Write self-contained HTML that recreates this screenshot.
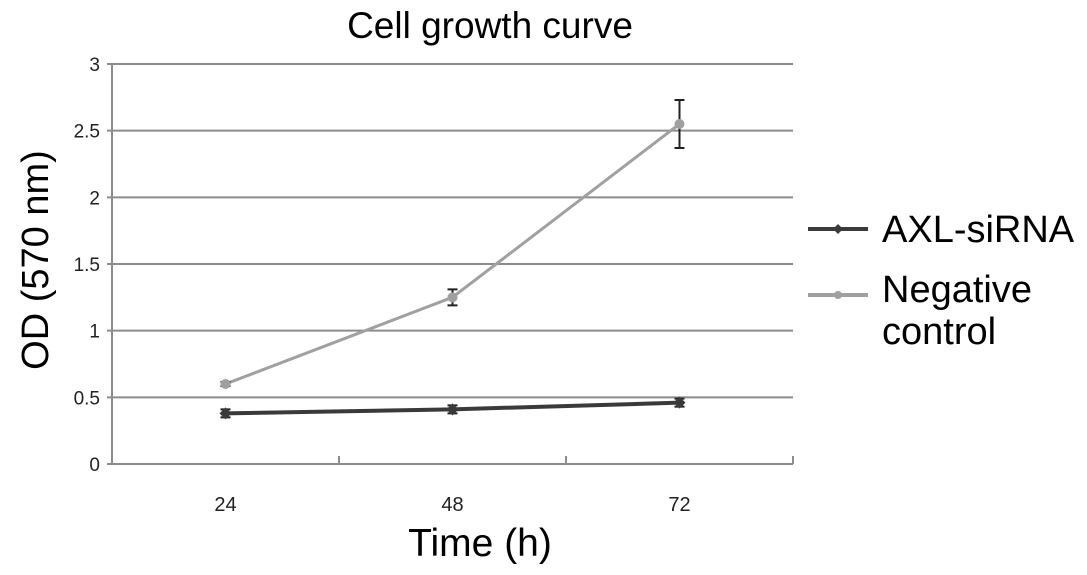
<!DOCTYPE html>
<html><head><meta charset="utf-8"><style>
body{margin:0;background:#fff;}
svg{display:block;font-family:"Liberation Sans",sans-serif;}
</style></head><body>
<svg id="chart" width="1087" height="575">
<text x="490" y="38" font-size="37" text-anchor="middle">Cell growth curve</text>
<g id="grid"></g><g id="axes"></g><g id="series"></g>
<text x="480" y="556" font-size="39" text-anchor="middle">Time (h)</text>
<text transform="translate(48,260) rotate(-90)" font-size="38" text-anchor="middle">OD (570 nm)</text>
<g>
<line x1="808" y1="229" x2="868" y2="229" stroke="#3a3a3a" stroke-width="4"/>
<polygon points="838,224 843,229 838,234 833,229" fill="#3a3a3a"/>
<text x="882" y="242" font-size="38">AXL-siRNA</text>
<line x1="808" y1="295" x2="868" y2="295" stroke="#a0a0a0" stroke-width="4"/>
<circle cx="838" cy="295" r="4" fill="#a0a0a0"/>
<text x="882" y="302" font-size="38">Negative</text>
<text x="882" y="344" font-size="38">control</text>
</g>
</svg>
<script>
const categories=["24","48","72"];
const yTicks=[0,0.5,1,1.5,2,2.5,3];
const yTickLabels=["0","0.5","1","1.5","2","2.5","3"];
const axlValues=[0.38,0.41,0.46];
const axlErrors=[0.03,0.03,0.03];
const negValues=[0.60,1.25,2.55];
const negErrors=[0.015,0.06,0.18];
const L=112,R=793,T=64,B=464,yMax=3;
const ns="http://www.w3.org/2000/svg";
function y(v){return B-(v/yMax)*(B-T);}
function x(i){const w=(R-L)/categories.length;return L+w*(i+0.5);}
function mk(tag,attrs,parent){const e=document.createElementNS(ns,tag);for(const k in attrs)e.setAttribute(k,attrs[k]);document.getElementById(parent).appendChild(e);return e;}
yTicks.forEach((t,i)=>{
 const g=mk('line',{x1:L-5,x2:R,y1:y(t),y2:y(t),stroke:'#8c8c8c','stroke-width':2},'grid');
 
 
 const tx=mk('text',{x:L-12,y:y(t)+7,'font-size':19,'text-anchor':'end',fill:'#222'},'axes');
 tx.textContent=yTickLabels[i];
 
 
});
const ya=mk('line',{x1:L,x2:L,y1:T,y2:B,stroke:'#8c8c8c','stroke-width':2},'axes');


const w=(R-L)/categories.length;
for(let i=0;i<=categories.length;i++){
 const tk=mk('line',{x1:L+w*i,x2:L+w*i,y1:B,y2:B-8,stroke:'#8c8c8c','stroke-width':2},'axes');
 
 
}
categories.forEach((c,i)=>{
 const tx=mk('text',{x:x(i),y:B+47,'font-size':20,'text-anchor':'middle',fill:'#222'},'axes');
 tx.textContent=c;
 
 
});
function drawSeries(vals,errs,color,name,marker){
 const pl=mk('polyline',{points:vals.map((v,i)=>x(i)+','+y(v)).join(' '),fill:'none',stroke:color,'stroke-width':name==='axl'?4:3},'series');
 
 
 vals.forEach((v,i)=>{
  const e=errs[i];
  const eb=mk('path',{d:`M${x(i)},${y(v+e)}V${y(v-e)}M${x(i)-5},${y(v+e)}h10M${x(i)-5},${y(v-e)}h10`,stroke:'#222','stroke-width':2,fill:'none'},'series');
  
  
  let m;
  if(marker==='diamond'){m=mk('polygon',{points:`${x(i)},${y(v)-6} ${x(i)+6},${y(v)} ${x(i)},${y(v)+6} ${x(i)-6},${y(v)}`,fill:color},'series');}
  else{m=mk('circle',{cx:x(i),cy:y(v),r:5,fill:color},'series');}
  
  
 });
}
drawSeries(negValues,negErrors,'#a0a0a0','negative-control','circle');
drawSeries(axlValues,axlErrors,'#3a3a3a','axl','diamond');
</script>
</body></html>
